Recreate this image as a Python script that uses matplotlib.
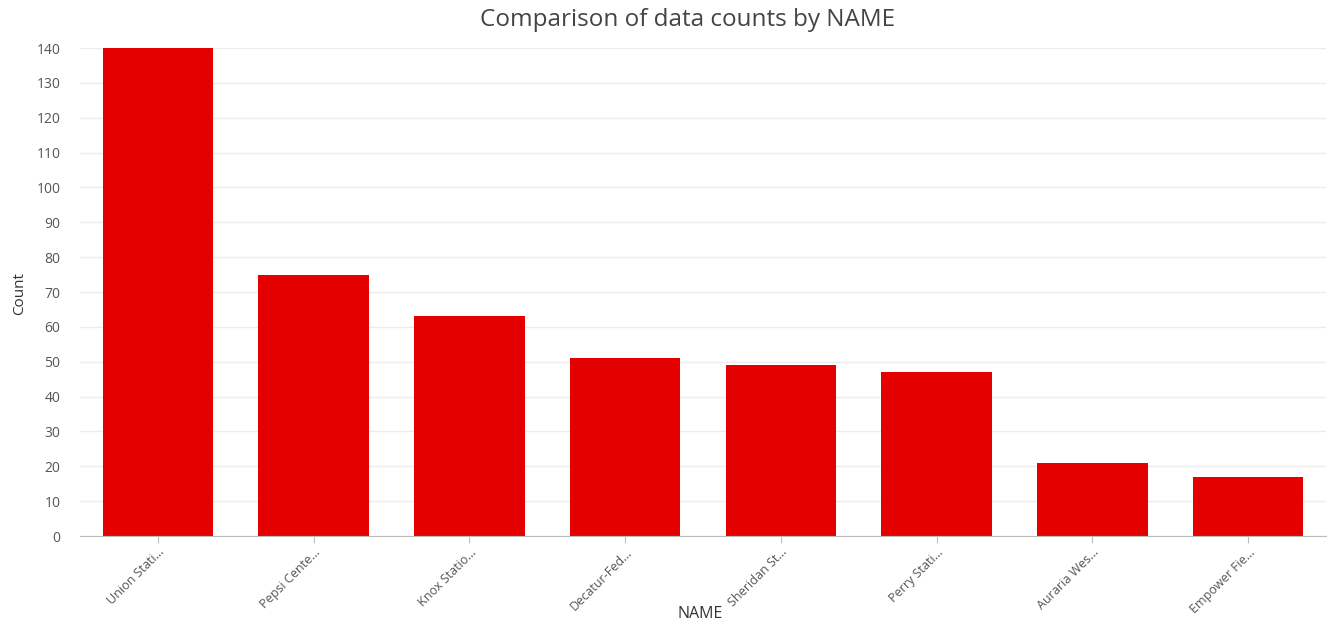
import matplotlib
matplotlib.use("Agg")
import matplotlib.pyplot as plt

# counts per station name
names = ["Union Stati...", "Pepsi Cente...", "Knox Statio...", "Decatur-Fed...",
         "Sheridan St...", "Perry Stati...", "Auraria Wes...", "Empower Fie..."]
counts = [140, 75, 63, 51, 49, 47, 21, 17]
y_ticks = list(range(0, 141, 10))

plt.rcParams["font.family"] = ["Open Sans", "DejaVu Sans"]

fig = plt.figure(figsize=(13.35, 6.23), dpi=100)
ax = fig.add_axes([80 / 1335, 1 - 536 / 623, (1326 - 80) / 1335, 488 / 623])

x = range(len(names))
ax.bar(x, counts, width=0.71, color="#e50000", zorder=2)

ax.set_xlim(-0.5, len(names) - 0.5)
ax.set_ylim(0, 140)
ax.set_yticks(y_ticks)
ax.set_xticks(list(x))
ax.set_xticklabels(names, rotation=45, ha="right", rotation_mode="anchor")

ax.grid(axis="y", color="#ececec", linewidth=1, zorder=0)
for side in ("top", "right", "left"):
    ax.spines[side].set_visible(False)
ax.spines["bottom"].set_color("#bdbdbd")
ax.tick_params(axis="y", length=0, pad=14, labelsize=10, labelcolor="#555555")
ax.tick_params(axis="x", length=5, color="#bdbdbd", pad=2, labelsize=9,
               labelcolor="#555555")

fig.text(688 / 1335, 1 - 20 / 623, "Comparison of data counts by NAME",
         fontsize=17.5, color="#444444", ha="center", va="center")
ax.set_ylabel("Count", fontsize=11, color="#333333")
ax.yaxis.set_label_coords(-(80 - 20) / 1246, (536 - 293) / 488)
ax.set_xlabel("NAME", fontsize=11.5, color="#333333")
ax.xaxis.set_label_coords((700 - 80) / 1246, -(614 - 536) / 488)
ax.xaxis.label.set_va("center")
ax.yaxis.label.set_va("center")

fig.savefig("out.png", dpi=100)
